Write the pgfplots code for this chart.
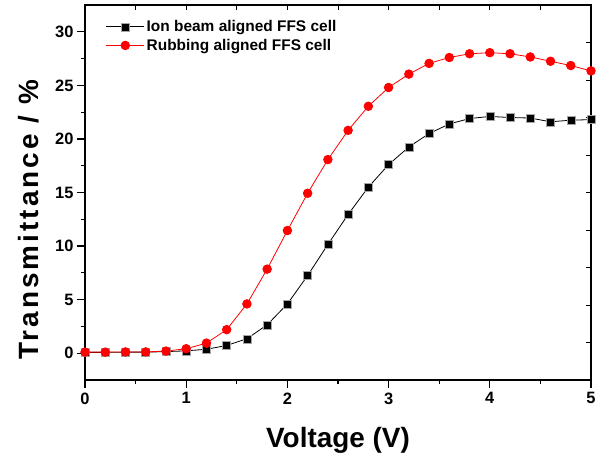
\documentclass[border=0pt]{standalone}
\usepackage{pgfplots}
\pgfplotsset{compat=1.18}
\usepackage{fontspec}
\setmainfont{Liberation Sans}

\pgfplotstableread{
v    ib     rub
0.0  0.08   0.10
0.2  0.08   0.10
0.4  0.10   0.12
0.6  0.10   0.12
0.8  0.15   0.20
1.0  0.22   0.42
1.2  0.37   0.94
1.4  0.72   2.20
1.6  1.35   4.60
1.8  2.65   7.85
2.0  4.60   11.45
2.2  7.25   14.93
2.4  10.15  18.07
2.6  12.95  20.80
2.8  15.50  23.05
3.0  17.60  24.80
3.2  19.25  26.05
3.4  20.50  27.05
3.6  21.40  27.60
3.8  21.90  27.95
4.0  22.10  28.05
4.2  22.00  27.95
4.4  21.95  27.65
4.6  21.60  27.25
4.8  21.75  26.85
5.0  21.80  26.35
}\datatable

\begin{document}
\begin{tikzpicture}
\pgfplotsset{
  common/.style={
    scale only axis, width=506bp, height=375bp,
    xmin=0, xmax=5, ymin=-2.5, ymax=32.5,
  }
}
% inside ticks on top and right
\begin{axis}[common,
  axis line style={draw=none},
  xtick={0,0.5,...,5}, ytick={1,4.5,...,29},
  xticklabels={}, yticklabels={},
  xtick pos=right, ytick pos=right,
  tick align=inside, major tick length=5bp,
  tick style={line width=0.9bp, black},
]
\end{axis}
\begin{axis}[common,
  axis line style={line width=1.4bp},
  xtick={0,1,...,5}, ytick={0,5,...,30},
  minor x tick num=1, minor y tick num=1,
  xtick pos=left, ytick pos=left,
  tick align=outside,
  major tick length=8bp, minor tick length=4bp,
  tick style={line width=1.2bp, black},
  /pgf/number format/assume math mode=true,
  ticklabel style={font=\bfseries\fontsize{16.5}{16.5}\selectfont},
  xticklabel style={yshift=-1bp},
  xlabel={Voltage (V)},
  ylabel={\addfontfeature{LetterSpace=11}Transmittance / \%},
  label style={font=\bfseries\fontsize{28}{28}\selectfont},
  xlabel style={at={(axis description cs:0.5,-0.16)}, anchor=center},
  ylabel style={at={(axis description cs:-0.112,0.427)}, anchor=center},
  legend cell align=left,
  legend style={draw=none, fill=none, at={(axis description cs:0.035,0.97)}, anchor=north west,
    font=\bfseries\fontsize{15.5}{15.5}\selectfont, row sep=2bp},
  legend image code/.code={\draw[mark repeat=2,mark phase=2,#1] plot coordinates {(0bp,0bp)(19bp,0bp)(38bp,0bp)};},
]
\addplot[black, line width=0.8bp, mark=square*, mark size=4bp,
  mark options={fill=black, draw=gray!70, line width=0.5bp}] table[x=v, y=ib] {\datatable};
\addplot[red, line width=0.8bp, mark=*, mark size=4.3bp,
  mark options={fill=red, draw=red}] table[x=v, y=rub] {\datatable};
\legend{Ion beam aligned FFS cell, Rubbing aligned FFS cell}
\end{axis}
\pgfresetboundingbox
\path[use as bounding box] (-85bp,-76bp) rectangle (513bp,380bp);
\end{tikzpicture}
\end{document}
